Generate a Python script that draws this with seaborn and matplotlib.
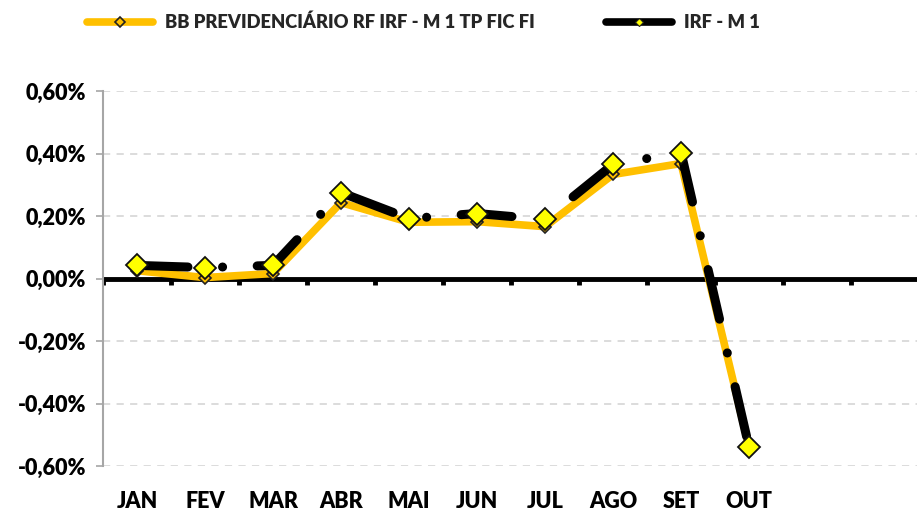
import matplotlib
matplotlib.use("Agg")
import matplotlib.pyplot as plt
from matplotlib.lines import Line2D
from matplotlib.ticker import FixedLocator, FuncFormatter
import seaborn as sns
import pandas as pd

months = ["JAN", "FEV", "MAR", "ABR", "MAI", "JUN", "JUL", "AGO", "SET", "OUT"]
slots = months + ["", ""]
fund_name = "BB PREVIDENCIÁRIO RF IRF - M 1 TP FIC FI"
bench_name = "IRF - M 1"
fund = [0.025, 0.003, 0.016, 0.243, 0.180, 0.182, 0.166, 0.333, 0.368, -0.540]
bench = [0.042, 0.035, 0.042, 0.275, 0.192, 0.208, 0.189, 0.365, 0.403, -0.540]
yticks = [-0.6, -0.4, -0.2, 0.0, 0.2, 0.4, 0.6]

ORANGE = "#FFC000"
YELLOW = "#FFFF00"
WEIGHT = "heavy"

sns.set_theme(style="white")
plt.rcParams["font.family"] = ["Lato", "DejaVu Sans"]
plt.rcParams["font.weight"] = WEIGHT

df = pd.DataFrame({"pos": list(range(len(months))), "month": months,
                   "fund": fund, "bench": bench})

fig = plt.figure(figsize=(9.17, 5.13), dpi=100)
ax = fig.add_axes([0.1123, 0.0916, 0.89, 0.731])

sns.lineplot(data=df, x="pos", y="fund", ax=ax, color=ORANGE, lw=5.5,
             marker="D", markersize=6.5, markerfacecolor=ORANGE,
             markeredgecolor="#222222", markeredgewidth=1.2,
             solid_capstyle="round", zorder=3, clip_on=False)
sns.lineplot(data=df, x="pos", y="bench", ax=ax, color="black", lw=6.5,
             linestyle=(0, (5.65, 3.83, 0.01, 3.83)), dash_capstyle="round",
             marker="D", markersize=11.5, markerfacecolor=YELLOW,
             markeredgecolor="#111111", markeredgewidth=1.3,
             zorder=4, clip_on=False)

ax.set_xlim(-0.5, len(slots) - 0.5)
ax.set_ylim(yticks[0], yticks[-1])
ax.set_xlabel("")
ax.set_ylabel("")

ax.xaxis.set_major_locator(FixedLocator(list(range(len(slots)))))
ax.set_xticklabels(slots)
ax.tick_params(axis="x", length=0, pad=18, labelsize=15.5, labelcolor="black")

ax.yaxis.set_major_locator(FixedLocator(yticks))
ax.yaxis.set_major_formatter(FuncFormatter(lambda v, p: f"{v:.2f}%".replace(".", ",").replace("-0,00", "0,00")))
ax.tick_params(axis="y", length=5, width=1.2, color="#A6A6A6", pad=7,
               labelsize=15.5, labelcolor="black", direction="out", left=True)

for lab in ax.get_xticklabels() + ax.get_yticklabels():
    lab.set_fontweight(WEIGHT)

ax.grid(axis="y", color="#D9D9D9", lw=1.3, linestyle=(0, (4, 3.5)))
ax.grid(axis="x", visible=False)
for s in ["top", "right", "bottom"]:
    ax.spines[s].set_visible(False)
ax.spines["left"].set_color("#A6A6A6")
ax.spines["left"].set_linewidth(1.5)

# zero axis line with category-boundary ticks below it
boundaries = [i - 0.5 for i in range(len(slots) + 1)]
ax.axhline(0, color="black", lw=3.5, zorder=2.5)
ax.vlines(boundaries, -0.02, 0, color="black", lw=3.5, zorder=2.5)

handles = [
    Line2D([], [], color=ORANGE, lw=5.5, solid_capstyle="round", marker="D",
           markersize=4.6, markerfacecolor=ORANGE, markeredgecolor="#222222",
           markeredgewidth=1.2),
    Line2D([], [], color="black", lw=5.5, solid_capstyle="round", marker="D",
           markersize=3.8, markerfacecolor=YELLOW, markeredgecolor="#222222",
           markeredgewidth=0.8),
]
fig.legend(handles, [fund_name, bench_name], loc="upper center",
           bbox_to_anchor=(0.462, 1.0), ncol=2, frameon=False,
           prop={"weight": WEIGHT, "size": 13.2}, handlelength=3.6,
           handletextpad=0.65, columnspacing=3.9, borderaxespad=0.35)

fig.savefig("out.png", dpi=100)
